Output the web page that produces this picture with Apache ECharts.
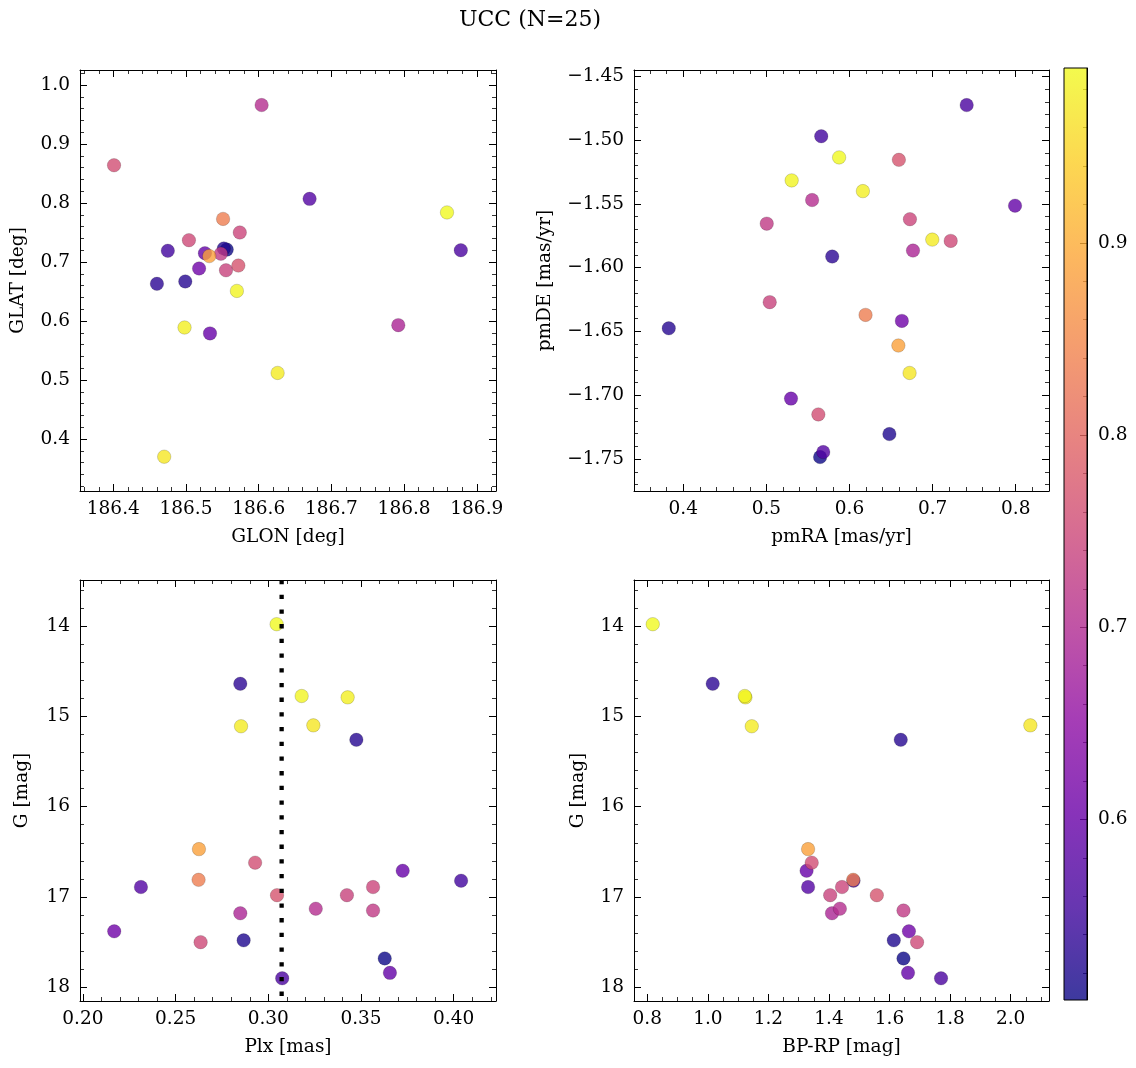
<!DOCTYPE html>
<html><head><meta charset="utf-8">
<script src="https://cdn.jsdelivr.net/npm/echarts@6/dist/echarts.min.js"></script>
<style>html,body{margin:0;padding:0;background:#fff}#c{width:1136px;height:1068px}</style>
</head><body><div id="c"></div><script>
// ---- data (one entry per star, ordered by membership probability) ----
const PROB = [0.506, 0.522, 0.528, 0.535, 0.555, 0.565, 0.575, 0.595, 0.600, 0.610, 0.690, 0.705, 0.725, 0.740, 0.745, 0.750, 0.760, 0.770, 0.835, 0.885, 0.970, 0.975, 0.980, 0.985, 0.991];
const GLON = [186.556, 186.552, 186.499, 186.460, 186.475, 186.878, 186.670, 186.526, 186.533, 186.518, 186.792, 186.604, 186.548, 186.555, 186.574, 186.504, 186.401, 186.572, 186.551, 186.532, 186.470, 186.626, 186.498, 186.570, 186.859];
const GLAT = [0.721, 0.723, 0.667, 0.663, 0.719, 0.720, 0.807, 0.715, 0.579, 0.689, 0.593, 0.966, 0.714, 0.686, 0.750, 0.737, 0.864, 0.694, 0.773, 0.710, 0.370, 0.512, 0.589, 0.651, 0.784];
const PMRA = [0.5646, 0.648, 0.3825, 0.5792, 0.566, 0.741, 0.5684, 0.7992, 0.5296, 0.663, 0.6764, 0.555, 0.5004, 0.504, 0.6727, 0.7218, 0.5625, 0.6594, 0.6193, 0.6588, 0.6723, 0.6996, 0.6161, 0.5304, 0.5875];
const PMDE = [-1.7484, -1.7304, -1.6475, -1.5913, -1.497, -1.4726, -1.7445, -1.5514, -1.7026, -1.6417, -1.5866, -1.547, -1.5655, -1.627, -1.562, -1.579, -1.715, -1.5155, -1.637, -1.661, -1.6825, -1.578, -1.540, -1.5316, -1.5136];
const PLX  = [0.3628, 0.2867, 0.3475, 0.2849, 0.4040, 0.3075, 0.2313, 0.3656, 0.3725, 0.2169, 0.2849, 0.3256, 0.3565, 0.3424, 0.3565, 0.2635, 0.2929, 0.3047, 0.2624, 0.2626, 0.3243, 0.2853, 0.3428, 0.3180, 0.3045];
const GMAG = [17.68, 17.48, 15.26, 14.64, 16.82, 17.90, 16.89, 17.84, 16.71, 17.38, 17.18, 17.13, 17.15, 16.98, 16.89, 17.50, 16.62, 16.98, 16.81, 16.47, 15.10, 15.11, 14.79, 14.775, 13.98];
const BPRP = [1.646, 1.614, 1.637, 1.016, 1.481, 1.770, 1.331, 1.661, 1.326, 1.664, 1.410, 1.436, 1.646, 1.404, 1.443, 1.691, 1.343, 1.558, 1.480, 1.331, 2.065, 1.145, 1.124, 1.122, 0.818];
const PLX_LINE = 0.3072;

const TITLE = 'UCC (N=25)';
const GLON_TICKS = [186.4, 186.5, 186.6, 186.7, 186.8, 186.9];
const GLAT_TICKS = [0.4, 0.5, 0.6, 0.7, 0.8, 0.9, 1.0];
const PMRA_TICKS = [0.4, 0.5, 0.6, 0.7, 0.8];
const PMDE_TICKS = [-1.75, -1.70, -1.65, -1.60, -1.55, -1.50, -1.45];
const PLX_TICKS  = [0.20, 0.25, 0.30, 0.35, 0.40];
const G_TICKS    = [14, 15, 16, 17, 18];
const BPRP_TICKS = [0.8, 1.0, 1.2, 1.4, 1.6, 1.8, 2.0];
const CB_TICKS   = [0.6, 0.7, 0.8, 0.9];

const PLASMA = ['#0d0887','#41049d','#6a00a8','#8f0da4','#b12a90','#cc4778','#e16462','#f2844b','#fca636','#fcce25','#f0f921'];
const VMIN = Math.min(...PROB), VMAX = Math.max(...PROB);

const FONT = 'DejaVu Serif';
const FS = 18.5;
const minus = s => s.replace('-', '\u2212');

function minorTicks(min, max, step, majors) {
  const out = [];
  const s = Math.ceil(min / step - 1e-9), e = Math.floor(max / step + 1e-9);
  for (let k = s; k <= e; k++) {
    const v = +(k * step).toFixed(6);
    if (!majors.some(m => Math.abs(m - v) < step / 10)) out.push(v);
  }
  return out;
}

function axisSet(kind, gridIndex, cfg) {
  const pos = kind === 'x' ? ['bottom', 'top'] : ['left', 'right'];
  const mn = minorTicks(Math.min(cfg.min, cfg.max), Math.max(cfg.min, cfg.max), cfg.minorStep, cfg.major);
  const base = { type: 'value', gridIndex, min: cfg.min, max: cfg.max, inverse: !!cfg.inverse,
    splitLine: { show: false }, minorTick: { show: false }, axisPointer: { show: false } };
  const list = [];
  pos.forEach((p, pi) => {
    list.push(Object.assign({}, base, {
      position: p,
      axisLine: { show: true, onZero: false, lineStyle: { color: '#000', width: 1 } },
      axisTick: { show: true, inside: true, length: 7, customValues: cfg.major, lineStyle: { color: '#000', width: 1 } },
      axisLabel: pi === 0 ? { show: true, customValues: cfg.major, formatter: cfg.fmt, color: '#000',
        fontFamily: FONT, fontSize: FS, margin: cfg.margin } : { show: false },
      name: pi === 0 ? cfg.name : '',
      nameLocation: 'middle', nameGap: cfg.nameGap,
      nameTextStyle: { color: '#000', fontFamily: FONT, fontSize: FS }
    }));
    list.push(Object.assign({}, base, {
      position: p,
      axisLine: { show: false, onZero: false },
      axisTick: { show: true, inside: true, length: 4, customValues: mn, lineStyle: { color: '#000', width: 0.8 } },
      axisLabel: { show: false }
    }));
  });
  return list;
}

const G_MIN = 13.4908, G_MAX = 18.1515;
const xAxes = [].concat(
  axisSet('x', 0, { min: 186.3542, max: 186.9264, major: GLON_TICKS, minorStep: 0.02, fmt: v => v.toFixed(1), name: 'GLON [deg]', nameGap: 37, margin: 9 }),
  axisSet('x', 1, { min: 0.34067, max: 0.84007, major: PMRA_TICKS, minorStep: 0.02, fmt: v => v.toFixed(1), name: 'pmRA [mas/yr]', nameGap: 37, margin: 9 }),
  axisSet('x', 2, { min: 0.19844, max: 0.42282, major: PLX_TICKS, minorStep: 0.01, fmt: v => v.toFixed(2), name: 'Plx [mas]', nameGap: 37, margin: 9 }),
  axisSet('x', 3, { min: 0.75608, max: 2.1266, major: BPRP_TICKS, minorStep: 0.05, fmt: v => v.toFixed(1), name: 'BP-RP [mag]', nameGap: 37, margin: 9 }),
  [{ type: 'value', gridIndex: 4, min: 0, max: 1, show: false }]
);
const yAxes = [].concat(
  axisSet('y', 0, { min: 0.3119, max: 1.0254, major: GLAT_TICKS, minorStep: 0.02, fmt: v => v.toFixed(1), name: 'GLAT [deg]', nameGap: 52, margin: 10 }),
  axisSet('y', 1, { min: -1.7750, max: -1.4451, major: PMDE_TICKS, minorStep: 0.01, fmt: v => minus(v.toFixed(2)), name: 'pmDE [mas/yr]', nameGap: 79, margin: 10 }),
  axisSet('y', 2, { min: G_MIN, max: G_MAX, inverse: true, major: G_TICKS, minorStep: 0.2, fmt: v => String(Math.round(v)), name: 'G [mag]', nameGap: 48, margin: 10 }),
  axisSet('y', 3, { min: G_MIN, max: G_MAX, inverse: true, major: G_TICKS, minorStep: 0.2, fmt: v => String(Math.round(v)), name: 'G [mag]', nameGap: 46, margin: 10 }),
  [
    { type: 'value', gridIndex: 4, position: 'right', min: VMIN, max: VMAX, splitLine: { show: false },
      axisLine: { show: true, onZero: false, lineStyle: { color: '#000', width: 1 } },
      axisTick: { show: true, inside: true, length: 7, customValues: CB_TICKS, lineStyle: { color: '#000', width: 1 } },
      axisLabel: { show: true, customValues: CB_TICKS, formatter: v => v.toFixed(1), color: '#000', fontFamily: FONT, fontSize: FS, margin: 11 } },
    { type: 'value', gridIndex: 4, position: 'right', min: VMIN, max: VMAX, splitLine: { show: false },
      axisLine: { show: false, onZero: false },
      axisTick: { show: true, inside: true, length: 4, customValues: minorTicks(VMIN, VMAX, 0.02, CB_TICKS), lineStyle: { color: '#000', width: 0.8 } },
      axisLabel: { show: false } }
  ]
);

function pts(xs, ys) { return xs.map((x, i) => [x, ys[i], PROB[i]]); }
const itemStyle = { opacity: 0.8, borderColor: 'rgba(0,0,0,0.4)', borderWidth: 0.5 };
function scatter(g, data) {
  return { type: 'scatter', xAxisIndex: 4 * g, yAxisIndex: 4 * g, data, symbolSize: 13.5,
    itemStyle, emphasis: { disabled: true }, animation: false };
}

const option = {
  backgroundColor: '#fff',
  animation: false,
  graphic: [{ type: 'text', x: 530, y: 20, style: { text: TITLE, fontFamily: FONT, fontSize: 22, fill: '#000', align: 'center', verticalAlign: 'middle' } }],
  grid: [
    { left: 80, top: 70, width: 416, height: 421, containLabel: false, outerBoundsMode: 'none' },
    { left: 634, top: 70, width: 415, height: 421, containLabel: false, outerBoundsMode: 'none' },
    { left: 80, top: 580, width: 416, height: 421, containLabel: false, outerBoundsMode: 'none' },
    { left: 634, top: 580, width: 415, height: 421, containLabel: false, outerBoundsMode: 'none' },
    { left: 1064, top: 68, width: 23, height: 932, containLabel: false, outerBoundsMode: 'none' }
  ],
  xAxis: xAxes,
  yAxis: yAxes,
  visualMap: { type: 'continuous', show: false, min: VMIN, max: VMAX, dimension: 2, seriesIndex: [0, 1, 2, 3], inRange: { color: PLASMA } },
  series: [
    scatter(0, pts(GLON, GLAT)),
    scatter(1, pts(PMRA, PMDE)),
    scatter(2, pts(PLX, GMAG)),
    scatter(3, pts(BPRP, GMAG)),
    { type: 'line', xAxisIndex: 8, yAxisIndex: 8, data: [[PLX_LINE, G_MIN], [PLX_LINE, G_MAX]],
      showSymbol: false, symbol: 'none', silent: true, animation: false, z: 3,
      lineStyle: { color: '#000', width: 4.3, type: [4.3, 10.4] }, emphasis: { disabled: true } },
    { type: 'custom', xAxisIndex: 16, yAxisIndex: 16, data: [[0, VMIN]], silent: true, animation: false, clip: false,
      renderItem(params, api) {
        const tl = api.coord([0, VMAX]), br = api.coord([1, VMIN]);
        const shape = { x: tl[0], y: tl[1], width: br[0] - tl[0], height: br[1] - tl[1] };
        const stops = PLASMA.map((c, i) => ({ offset: i / (PLASMA.length - 1), color: c }));
        return { type: 'group', children: [
          { type: 'rect', shape, style: { fill: new echarts.graphic.LinearGradient(0, 1, 0, 0, stops), opacity: 0.8 } },
          { type: 'rect', shape, style: { fill: 'none', stroke: '#000', lineWidth: 1 } }
        ] };
      } }
  ]
};
echarts.init(document.getElementById('c')).setOption(option);
</script></body></html>
